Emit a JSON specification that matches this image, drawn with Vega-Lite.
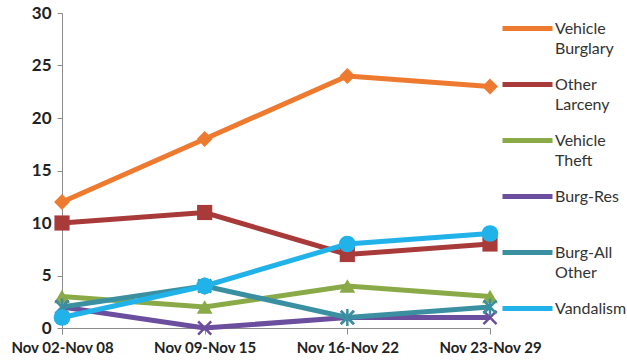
{
  "$schema": "https://vega.github.io/schema/vega-lite/v6.json",
  "width": 428,
  "height": 315,
  "autosize": {"type": "none"},
  "padding": {"left": 62, "top": 13, "right": 137, "bottom": 33},
  "background": "white",
  "config": {"view": {"stroke": null}, "font": "Lato"},
  "data": {
    "values": [
      {"week": "Nov 02-Nov 08", "series": "Vehicle Burglary", "count": 12},
      {"week": "Nov 09-Nov 15", "series": "Vehicle Burglary", "count": 18},
      {"week": "Nov 16-Nov 22", "series": "Vehicle Burglary", "count": 24},
      {"week": "Nov 23-Nov 29", "series": "Vehicle Burglary", "count": 23},
      {"week": "Nov 02-Nov 08", "series": "Other Larceny", "count": 10},
      {"week": "Nov 09-Nov 15", "series": "Other Larceny", "count": 11},
      {"week": "Nov 16-Nov 22", "series": "Other Larceny", "count": 7},
      {"week": "Nov 23-Nov 29", "series": "Other Larceny", "count": 8},
      {"week": "Nov 02-Nov 08", "series": "Vehicle Theft", "count": 3},
      {"week": "Nov 09-Nov 15", "series": "Vehicle Theft", "count": 2},
      {"week": "Nov 16-Nov 22", "series": "Vehicle Theft", "count": 4},
      {"week": "Nov 23-Nov 29", "series": "Vehicle Theft", "count": 3},
      {"week": "Nov 02-Nov 08", "series": "Burg-Res", "count": 2},
      {"week": "Nov 09-Nov 15", "series": "Burg-Res", "count": 0},
      {"week": "Nov 16-Nov 22", "series": "Burg-Res", "count": 1},
      {"week": "Nov 23-Nov 29", "series": "Burg-Res", "count": 1},
      {"week": "Nov 02-Nov 08", "series": "Burg-All Other", "count": 2},
      {"week": "Nov 09-Nov 15", "series": "Burg-All Other", "count": 4},
      {"week": "Nov 16-Nov 22", "series": "Burg-All Other", "count": 1},
      {"week": "Nov 23-Nov 29", "series": "Burg-All Other", "count": 2},
      {"week": "Nov 02-Nov 08", "series": "Vandalism", "count": 1},
      {"week": "Nov 09-Nov 15", "series": "Vandalism", "count": 4},
      {"week": "Nov 16-Nov 22", "series": "Vandalism", "count": 8},
      {"week": "Nov 23-Nov 29", "series": "Vandalism", "count": 9}
    ]
  },
  "encoding": {
    "x": {
      "field": "week", "type": "ordinal",
      "scale": {"type": "point", "padding": 0},
      "axis": {
        "title": null, "labelAngle": 0, "labelFont": "Lato", "labelFontWeight": "bold",
        "labelFontSize": 15, "labelColor": "#222222", "labelPadding": 6,
        "domainColor": "#8c8c8c", "tickColor": "#8c8c8c", "tickSize": 6, "grid": false
      }
    },
    "y": {
      "field": "count", "type": "quantitative",
      "scale": {"domain": [0, 30], "nice": false},
      "axis": {
        "title": null, "values": [0, 5, 10, 15, 20, 25, 30], "labelFont": "Lato",
        "labelFontWeight": "bold", "labelFontSize": 17, "labelColor": "#222222",
        "labelPadding": 6, "domainColor": "#8c8c8c", "tickColor": "#8c8c8c",
        "tickSize": 5, "grid": false
      }
    }
  },
  "layer": [
    {
      "mark": {"type": "line", "strokeWidth": 5},
      "encoding": {
        "color": {
          "field": "series", "type": "nominal",
          "scale": {
            "domain": ["Vehicle Burglary", "Other Larceny", "Vehicle Theft", "Burg-Res", "Burg-All Other", "Vandalism"],
            "range": ["#EE7A30", "#A83A3A", "#8AAA48", "#6C4E9E", "#3A90A0", "#22B2EA"]
          },
          "legend": {
            "title": null, "orient": "none", "legendX": 438, "legendY": -12, "padding": 0,
            "symbolType": "stroke", "symbolSize": 2500, "symbolStrokeWidth": 5,
            "labelFont": "Lato", "labelFontSize": 16, "labelColor": "#333333",
            "labelOffset": 0, "labelLimit": 200, "rowPadding": 0,
            "labelExpr": "datum.label == 'Burg-Res' || datum.label == 'Vandalism' ? [datum.label, ' '] : split(datum.label, ' ')",
            "encode": {
              "labels": {"update": {"lineHeight": {"value": 20.5}}}
            }
          }
        }
      }
    },
    {
      "transform": [{"filter": "datum.series == 'Vehicle Burglary'"}],
      "mark": {"type": "point", "shape": "diamond", "filled": true, "opacity": 1, "size": 250, "color": "#EE7A30"}
    },
    {
      "transform": [{"filter": "datum.series == 'Other Larceny'"}],
      "mark": {"type": "point", "shape": "square", "filled": true, "opacity": 1, "size": 230, "color": "#A83A3A"}
    },
    {
      "transform": [{"filter": "datum.series == 'Vehicle Theft'"}],
      "mark": {"type": "point", "shape": "triangle-up", "filled": true, "opacity": 1, "size": 250, "color": "#8AAA48"}
    },
    {
      "transform": [{"filter": "datum.series == 'Burg-Res'"}],
      "mark": {"type": "point", "shape": "M-1,-1L1,1M-1,1L1,-1", "filled": false, "opacity": 1, "size": 170, "strokeWidth": 2.5, "color": "#6C4E9E"}
    },
    {
      "transform": [{"filter": "datum.series == 'Burg-All Other'"}],
      "mark": {"type": "point", "shape": "M-1,-1L1,1M-1,1L1,-1M0,-1.3L0,1.3", "filled": false, "opacity": 1, "size": 170, "strokeWidth": 2.5, "color": "#3A90A0"}
    },
    {
      "transform": [{"filter": "datum.series == 'Vandalism'"}],
      "mark": {"type": "point", "shape": "circle", "filled": true, "opacity": 1, "size": 280, "color": "#22B2EA"}
    }
  ]
}
